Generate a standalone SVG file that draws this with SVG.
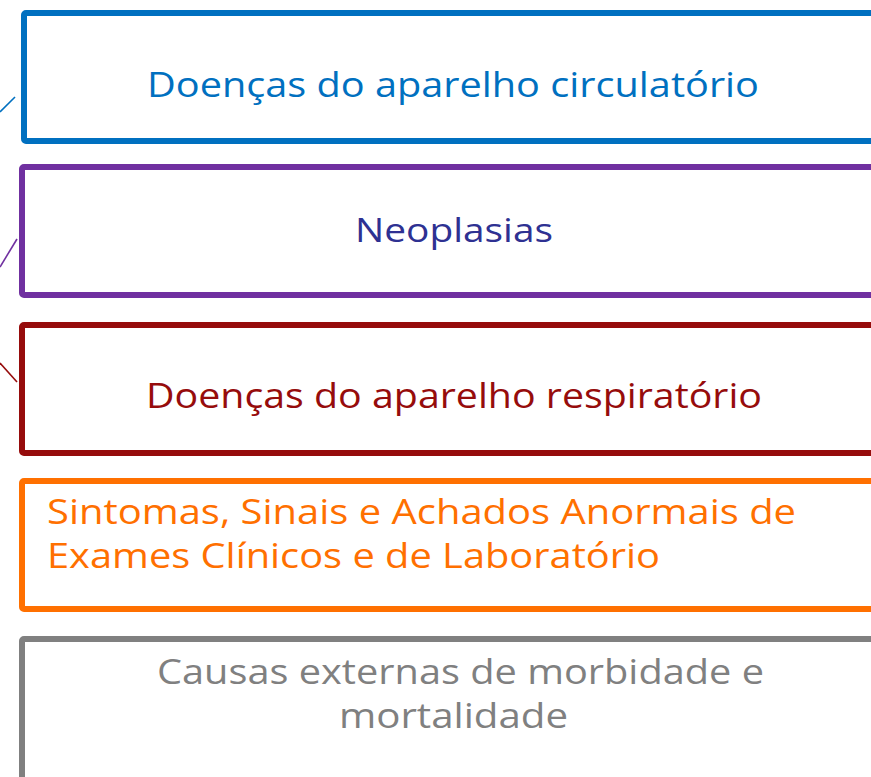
<svg xmlns="http://www.w3.org/2000/svg" width="871" height="777" viewBox="0 0 871 777">
<style>
.box{fill:#ffffff;stroke-width:6;}
.t{font-family:"Open Sans","Noto Sans","Liberation Sans",sans-serif;font-size:35px;}
.c{fill:none;stroke-width:1.6;}
</style>
<rect width="871" height="777" fill="#ffffff"/>
<g id="connectors">
<line class="c" x1="0" y1="112" x2="15" y2="97" stroke="#0070C0"/>
<line class="c" x1="0" y1="267" x2="17" y2="239" stroke="#7030A0"/>
<line class="c" x1="0" y1="363" x2="17" y2="382" stroke="#960C0C"/>
</g>
<g id="node-circulatorio">
<rect class="box" x="24" y="13" width="870" height="128" rx="2" stroke="#0070C0"/>
<text class="t" x="147" y="97" fill="#0070C0" textLength="612" lengthAdjust="spacingAndGlyphs">Doenças do aparelho circulatório</text>
</g>
<g id="node-neoplasias">
<rect class="box" x="22" y="167" width="870" height="128" rx="2" stroke="#7030A0"/>
<text class="t" x="355" y="242" fill="#2E3192" style="font-size:33px" textLength="198" lengthAdjust="spacingAndGlyphs">Neoplasias</text>
</g>
<g id="node-respiratorio">
<rect class="box" x="22" y="325" width="870" height="128" rx="2" stroke="#960C0C"/>
<text class="t" x="146" y="408" fill="#960C0C" textLength="616" lengthAdjust="spacingAndGlyphs">Doenças do aparelho respiratório</text>
</g>
<g id="node-sintomas">
<rect class="box" x="22" y="481" width="870" height="128" rx="2" stroke="#FF7000"/>
<text class="t" x="47" y="524" fill="#FF7000" textLength="749" lengthAdjust="spacingAndGlyphs">Sintomas, Sinais e Achados Anormais de</text>
<text class="t" x="47" y="568" fill="#FF7000" textLength="613" lengthAdjust="spacingAndGlyphs">Exames Clínicos e de Laboratório</text>
</g>
<g id="node-causas">
<rect class="box" x="22" y="639" width="870" height="160" rx="2" stroke="#808080"/>
<text class="t" x="157" y="684" fill="#808080" textLength="607" lengthAdjust="spacingAndGlyphs">Causas externas de morbidade e</text>
<text class="t" x="339" y="728" fill="#808080" textLength="229" lengthAdjust="spacingAndGlyphs">mortalidade</text>
</g>
</svg>
